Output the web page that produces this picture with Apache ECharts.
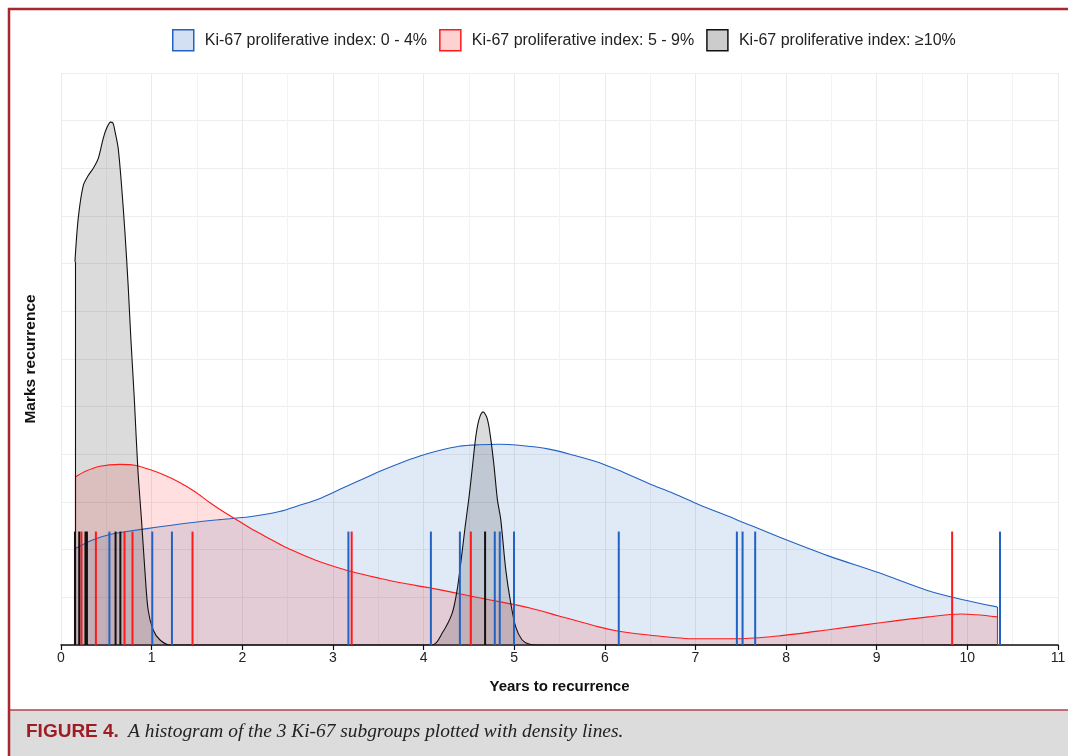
<!DOCTYPE html>
<html><head><meta charset="utf-8">
<script src="https://cdn.jsdelivr.net/npm/echarts@6/dist/echarts.min.js"></script>
<style>html,body{margin:0;padding:0;background:#fff}#c{width:1068px;height:756px}</style>
</head><body><div id="c"></div>
<script>
const seriesNames = ['Ki-67 proliferative index: 0 - 4%', 'Ki-67 proliferative index: 5 - 9%', 'Ki-67 proliferative index: \u226510%'];
const xTickLabels = ['0','1','2','3','4','5','6','7','8','9','10','11'];

// density curves [years, density] (curves span the data range 0.154 .. 10.327)
const blueDensity = [
  [0.154,0.202],[0.264,0.213],[0.356,0.221],[0.539,0.232],[0.723,0.238],[1.090,0.248],
  [1.453,0.257],[1.751,0.263],[2.081,0.269],[2.411,0.280],[2.631,0.293],[2.851,0.307],[3.072,0.326],
  [3.292,0.345],[3.512,0.364],[3.732,0.381],[3.952,0.396],[4.172,0.408],[4.393,0.417],[4.613,0.420],
  [4.833,0.421],[5.053,0.419],[5.384,0.411],[5.659,0.398],[5.934,0.383],[6.210,0.362],[6.485,0.339],
  [6.760,0.318],[7.035,0.295],[7.454,0.263],[7.916,0.227],[8.467,0.187],[9.017,0.152],[9.568,0.114],
  [9.953,0.095],[10.327,0.080]
];
const redDensity = [
  [0.154,0.352],[0.264,0.364],[0.429,0.375],[0.650,0.379],[0.815,0.377],[0.980,0.368],
  [1.145,0.356],[1.310,0.341],[1.475,0.322],[1.640,0.299],[1.806,0.278],[1.971,0.259],[2.136,0.240],
  [2.301,0.223],[2.466,0.206],[2.631,0.192],[2.796,0.179],[2.962,0.168],[3.204,0.154],[3.512,0.140],
  [3.732,0.131],[4.062,0.120],[4.283,0.112],[4.613,0.099],[4.833,0.091],[5.163,0.078],[5.494,0.061],
  [5.934,0.038],[6.154,0.029],[6.485,0.021],[7.002,0.013],[7.476,0.013],[7.916,0.019],[8.467,0.032],
  [9.017,0.046],[9.568,0.059],[9.931,0.065],[10.327,0.059]
];
const blackDensity = [
  [0.154,0.804],[0.190,0.895],[0.246,0.964],[0.301,0.985],[0.356,1.000],[0.411,1.021],
  [0.466,1.063],[0.503,1.084],[0.547,1.097],[0.573,1.095],[0.595,1.078],[0.631,1.042],[0.668,0.964],
  [0.705,0.867],[0.741,0.754],[0.771,0.642],[0.809,0.516],[0.848,0.368],[0.888,0.263],[0.925,0.158],
  [0.961,0.074],[1.016,0.032],[1.090,0.011],[1.200,0],[4.096,0],[4.206,0.025],[4.316,0.067],
  [4.371,0.116],[4.415,0.179],[4.459,0.248],[4.503,0.312],[4.540,0.375],[4.577,0.438],[4.613,0.474],
  [4.657,0.489],[4.704,0.474],[4.742,0.432],[4.778,0.375],[4.815,0.305],[4.852,0.263],[4.907,0.158],
  [4.962,0.088],[5.017,0.038],[5.086,0.011],[5.163,0.002],[5.274,0],[10.327,0]
];

// individual recurrence times (rug marks), years
const blueRug = [0.534,1.007,1.224,3.171,4.081,4.401,4.786,4.841,4.998,6.154,7.457,7.520,7.659,10.360];
const redRug = [0.226,0.385,0.701,0.789,1.451,3.207,4.522,9.832];
const blackRug = [0.154,0.201,0.270,0.286,0.602,0.655,4.679];

const BLUE = '#2262c2', RED = '#ff1a1a', BLACK = '#111111';
const RUG_TOP = 0.238;

function rugRender(color){
  return function(params, api){
    const x = api.value(0);
    const p0 = api.coord([x, 0]);
    const p1 = api.coord([x, RUG_TOP]);
    return {type:'line', shape:{x1:p0[0], y1:p0[1], x2:p1[0], y2:p1[1]},
      style:{stroke:color, lineWidth:2}};
  };
}

function densitySeries(name, data, color, fill, width){
  const first = data[0], last = data[data.length - 1];
  return {name, type:'line', data, showSymbol:false, symbol:'none', smooth:0.3,
    lineStyle:{color, width}, itemStyle:{color:fill, borderColor:color},
    areaStyle:{color:fill, origin:'start'}, animation:false, z:2,
    markLine:{silent:true, symbol:'none', animation:false, label:{show:false},
      lineStyle:{color, width, type:'solid'}, emphasis:{disabled:true},
      data:[[{coord:[first[0],0]},{coord:first}], [{coord:[last[0],0]},{coord:last}]]}};
}
function rugSeries(name, vals, color){
  return {name, type:'custom', renderItem:rugRender(color), data:vals.map(v=>[v]),
    encode:{x:0}, animation:false, z:5, silent:true};
}

const chart = echarts.init(document.getElementById('c'), null, {renderer:'canvas'});
chart.setOption({
  backgroundColor:'#ffffff',
  animation:false,
  textStyle:{fontFamily:'"Liberation Sans", Arial, sans-serif'},
  legend:{
    left:172, top:29, padding:0, itemWidth:21, itemHeight:21, itemGap:12, icon:'rect',
    textStyle:{fontSize:16, color:'#222', padding:[0,0,0,6]},
    data:[
      {name:seriesNames[0], itemStyle:{color:'rgba(34,98,194,0.2)', borderColor:BLUE, borderWidth:1.5}},
      {name:seriesNames[1], itemStyle:{color:'rgba(255,26,26,0.2)', borderColor:RED, borderWidth:1.5}},
      {name:seriesNames[2], itemStyle:{color:'rgba(0,0,0,0.2)', borderColor:BLACK, borderWidth:1.5}}
    ]
  },
  grid:{left:61, right:10, top:73, bottom:111, outerBoundsMode:'none', containLabel:false},
  xAxis:{
    type:'value', min:0, max:11, interval:1,
    name:'Years to recurrence', nameLocation:'middle', nameGap:34,
    nameTextStyle:{fontSize:15, fontWeight:'bold', color:'#111'},
    axisLine:{show:true, onZero:false, lineStyle:{color:'#111', width:1.5}},
    axisTick:{show:true, length:5, lineStyle:{color:'#111', width:1.2}},
    axisLabel:{fontSize:14, color:'#222', margin:6, formatter:(v)=>xTickLabels[Math.round(v)]},
    splitLine:{show:true, lineStyle:{color:'#ebebeb', width:1}},
    minorTick:{show:false, splitNumber:2},
    minorSplitLine:{show:true, lineStyle:{color:'#f3f3f3', width:1}}
  },
  yAxis:{
    type:'value', min:0, max:1.2, interval:0.1,
    name:'Marks recurrence', nameLocation:'middle', nameGap:22,
    nameTextStyle:{fontSize:15.5, fontWeight:'bold', color:'#111'},
    axisLine:{show:false}, axisTick:{show:false}, axisLabel:{show:false},
    splitLine:{show:true, lineStyle:{color:'#eeeeee', width:1}}
  },
  series:[
    densitySeries(seriesNames[0], blueDensity, BLUE, 'rgba(34,98,194,0.2)', 1.1),
    densitySeries(seriesNames[1], redDensity, RED, 'rgba(255,26,26,0.2)', 1.1),
    densitySeries(seriesNames[2], blackDensity, BLACK, 'rgba(0,0,0,0.2)', 1.1),
    rugSeries('rug 0-4', blueRug, BLUE),
    rugSeries('rug 5-9', redRug, RED),
    rugSeries('rug >=10', blackRug, BLACK)
  ],
  graphic:[
    {type:'rect', z:50, shape:{x:9, y:710, width:1059, height:46}, style:{fill:'#dcdcdc'}},
    {type:'line', z:51, shape:{x1:9, y1:710, x2:1068, y2:710}, style:{stroke:'#b4434b', lineWidth:1.5}},
    {type:'line', z:52, shape:{x1:8, y1:9, x2:1068, y2:9}, style:{stroke:'#a8262d', lineWidth:2.5}},
    {type:'line', z:52, shape:{x1:9, y1:8, x2:9, y2:756}, style:{stroke:'#a8262d', lineWidth:2.5}},
    {type:'text', z:53, x:26, y:732, style:{text:'FIGURE 4.', font:'bold 19px "Liberation Sans", Arial, sans-serif', fill:'#9e1c24', verticalAlign:'middle'}},
    {type:'text', z:53, x:128, y:732, style:{text:'A histogram of the 3 Ki-67 subgroups plotted with density lines.', font:'italic 19.4px "Liberation Serif", "Times New Roman", serif', fill:'#222', verticalAlign:'middle'}}
  ]
});
</script></body></html>
